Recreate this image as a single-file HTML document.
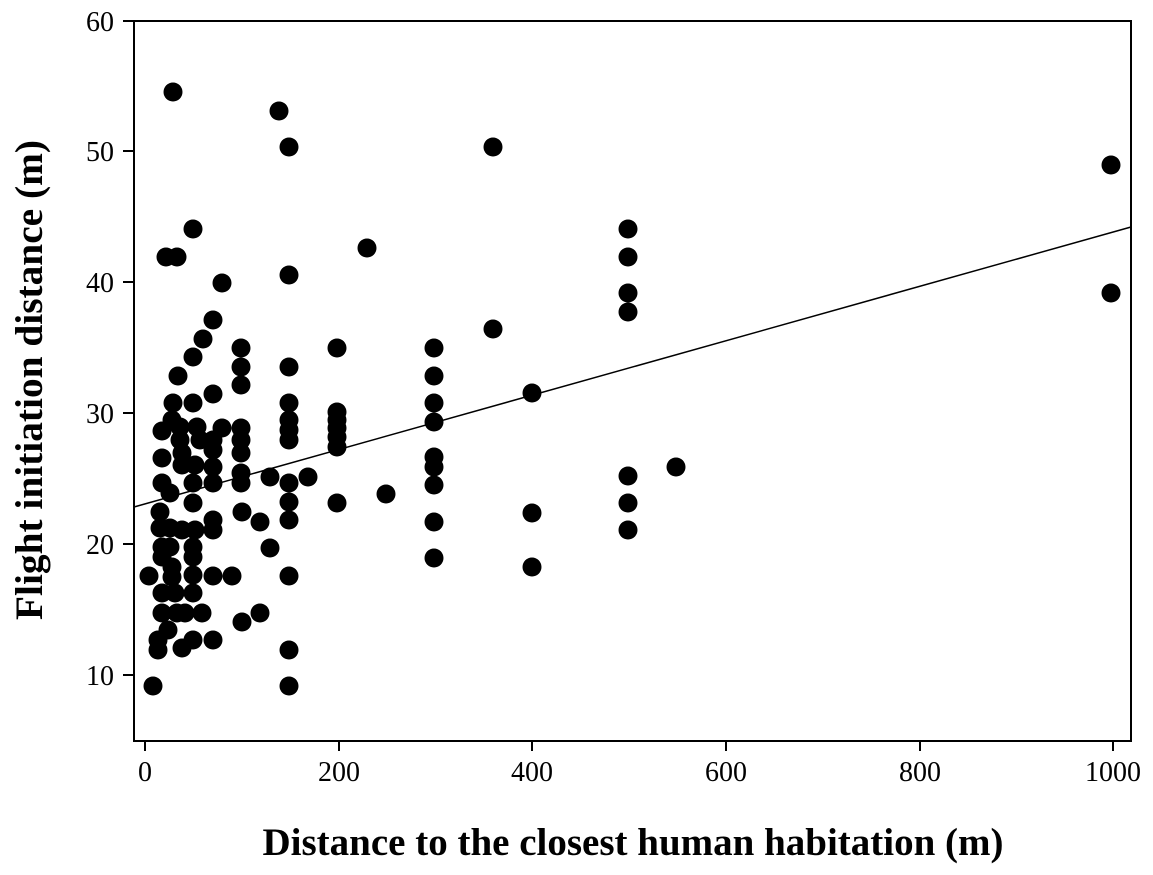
<!DOCTYPE html>
<html><head><style>body{margin:0;background:#fff}</style></head><body>
<svg width="1153" height="870" xmlns="http://www.w3.org/2000/svg" font-family="Liberation Serif, serif">
<rect width="1153" height="870" fill="#fff"/>
<g stroke="#000" stroke-width="2" fill="none">
<path d="M134,21 V741 H1131 V21 Z"/>
<path d="M123,21H134M123,151H134M123,282H134M123,413H134M123,544H134M123,675H134"/>
<path d="M145,741V751M339,741V751M532,741V751M726,741V751M920,741V751M1113,741V751"/>
</g>
<line x1="134" y1="507" x2="1131" y2="227" stroke="#000" stroke-width="1.5"/>
<g font-size="28" text-anchor="end">
<text x="114" y="31">60</text><text x="114" y="161">50</text><text x="114" y="292">40</text><text x="114" y="423">30</text><text x="114" y="554">20</text><text x="114" y="685">10</text>
</g>
<g font-size="28" text-anchor="middle">
<text x="145" y="781">0</text><text x="339" y="781">200</text><text x="532" y="781">400</text><text x="726" y="781">600</text><text x="920" y="781">800</text><text x="1113" y="781">1000</text>
</g>
<text x="633" y="855" font-size="39" font-weight="bold" text-anchor="middle" textLength="741" lengthAdjust="spacingAndGlyphs">Distance to the closest human habitation (m)</text>
<text transform="translate(42,380) rotate(-90)" font-size="39" font-weight="bold" text-anchor="middle" textLength="480" lengthAdjust="spacingAndGlyphs">Flight initiation distance (m)</text>
<g fill="#000">
<circle cx="222" cy="283" r="9.5"/><circle cx="213" cy="320" r="9.5"/><circle cx="203" cy="339" r="9.5"/><circle cx="193" cy="357" r="9.5"/><circle cx="178" cy="376" r="9.5"/>
<circle cx="241" cy="348" r="9.5"/><circle cx="241" cy="367" r="9.5"/><circle cx="241" cy="385" r="9.5"/><circle cx="213" cy="394" r="9.5"/><circle cx="289" cy="367" r="9.5"/><circle cx="337" cy="348" r="9.5"/>
<circle cx="173" cy="403" r="9.5"/><circle cx="193" cy="403" r="9.5"/><circle cx="289" cy="403" r="9.5"/>
<circle cx="337" cy="412" r="9.5"/><circle cx="337" cy="420" r="9.5"/><circle cx="337" cy="428" r="9.5"/><circle cx="337" cy="437" r="9.5"/><circle cx="337" cy="447" r="9.5"/>
<circle cx="172" cy="420" r="9.5"/><circle cx="162" cy="431" r="9.5"/><circle cx="180" cy="427" r="9.5"/><circle cx="197" cy="427" r="9.5"/><circle cx="180" cy="440" r="9.5"/><circle cx="200" cy="440" r="9.5"/><circle cx="213" cy="440" r="9.5"/><circle cx="222" cy="428" r="9.5"/>
<circle cx="241" cy="428" r="9.5"/><circle cx="241" cy="440" r="9.5"/><circle cx="241" cy="453" r="9.5"/><circle cx="241" cy="473" r="9.5"/><circle cx="241" cy="483" r="9.5"/>
<circle cx="289" cy="420" r="9.5"/><circle cx="289" cy="430" r="9.5"/><circle cx="289" cy="440" r="9.5"/>
<circle cx="162" cy="458" r="9.5"/><circle cx="182" cy="453" r="9.5"/><circle cx="182" cy="465" r="9.5"/><circle cx="195" cy="465" r="9.5"/><circle cx="213" cy="450" r="9.5"/><circle cx="213" cy="467" r="9.5"/>
<circle cx="162" cy="483" r="9.5"/><circle cx="170" cy="493" r="9.5"/><circle cx="193" cy="483" r="9.5"/><circle cx="213" cy="483" r="9.5"/>
<circle cx="270" cy="477" r="9.5"/><circle cx="308" cy="477" r="9.5"/><circle cx="289" cy="483" r="9.5"/><circle cx="289" cy="502" r="9.5"/><circle cx="289" cy="520" r="9.5"/><circle cx="337" cy="503" r="9.5"/><circle cx="193" cy="503" r="9.5"/>
<circle cx="160" cy="512" r="9.5"/><circle cx="160" cy="528" r="9.5"/><circle cx="170" cy="528" r="9.5"/><circle cx="182" cy="530" r="9.5"/><circle cx="195" cy="530" r="9.5"/><circle cx="213" cy="520" r="9.5"/><circle cx="213" cy="530" r="9.5"/>
<circle cx="242" cy="512" r="9.5"/><circle cx="260" cy="522" r="9.5"/>
<circle cx="162" cy="547" r="9.5"/><circle cx="170" cy="547" r="9.5"/><circle cx="162" cy="557" r="9.5"/><circle cx="193" cy="547" r="9.5"/><circle cx="193" cy="557" r="9.5"/><circle cx="270" cy="548" r="9.5"/>
<circle cx="149" cy="576" r="9.5"/><circle cx="172" cy="567" r="9.5"/><circle cx="172" cy="577" r="9.5"/><circle cx="193" cy="575" r="9.5"/><circle cx="213" cy="576" r="9.5"/><circle cx="232" cy="576" r="9.5"/><circle cx="289" cy="576" r="9.5"/>
<circle cx="162" cy="593" r="9.5"/><circle cx="175" cy="593" r="9.5"/><circle cx="193" cy="593" r="9.5"/><circle cx="162" cy="613" r="9.5"/><circle cx="177" cy="613" r="9.5"/><circle cx="185" cy="613" r="9.5"/><circle cx="202" cy="613" r="9.5"/>
<circle cx="242" cy="622" r="9.5"/><circle cx="260" cy="613" r="9.5"/>
<circle cx="168" cy="630" r="9.5"/><circle cx="158" cy="640" r="9.5"/><circle cx="158" cy="650" r="9.5"/><circle cx="182" cy="648" r="9.5"/><circle cx="193" cy="640" r="9.5"/><circle cx="213" cy="640" r="9.5"/><circle cx="289" cy="650" r="9.5"/>
<circle cx="153" cy="686" r="9.5"/><circle cx="289" cy="686" r="9.5"/>
<circle cx="173" cy="92" r="9.5"/><circle cx="279" cy="111" r="9.5"/><circle cx="289" cy="147" r="9.5"/><circle cx="166" cy="257" r="9.5"/><circle cx="177" cy="257" r="9.5"/><circle cx="193" cy="229" r="9.5"/><circle cx="289" cy="275" r="9.5"/><circle cx="367" cy="248" r="9.5"/><circle cx="493" cy="147" r="9.5"/>
<circle cx="1111" cy="165" r="9.5"/><circle cx="1111" cy="293" r="9.5"/>
<circle cx="434" cy="348" r="9.5"/><circle cx="434" cy="376" r="9.5"/><circle cx="434" cy="403" r="9.5"/><circle cx="434" cy="422" r="9.5"/><circle cx="434" cy="457" r="9.5"/><circle cx="434" cy="467" r="9.5"/><circle cx="434" cy="485" r="9.5"/><circle cx="434" cy="522" r="9.5"/><circle cx="434" cy="558" r="9.5"/>
<circle cx="493" cy="329" r="9.5"/><circle cx="532" cy="393" r="9.5"/><circle cx="532" cy="513" r="9.5"/><circle cx="532" cy="567" r="9.5"/><circle cx="386" cy="494" r="9.5"/>
<circle cx="676" cy="467" r="9.5"/><circle cx="628" cy="229" r="9.5"/><circle cx="628" cy="257" r="9.5"/><circle cx="628" cy="293" r="9.5"/><circle cx="628" cy="312" r="9.5"/><circle cx="628" cy="476" r="9.5"/><circle cx="628" cy="503" r="9.5"/><circle cx="628" cy="530" r="9.5"/>
</g>
</svg>
</body></html>
